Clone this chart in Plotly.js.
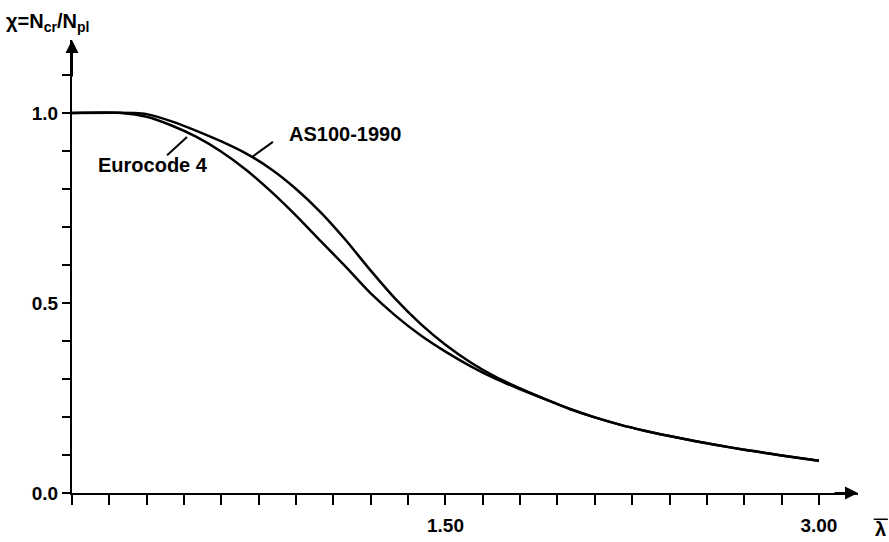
<!DOCTYPE html>
<html>
<head>
<meta charset="utf-8">
<script src="https://cdn.plot.ly/plotly-3.0.1.min.js"></script>
<style>html,body{margin:0;padding:0;background:#fff;}#chart{width:889px;height:542px;}</style>
</head>
<body>
<div id="chart"></div>
<script>
// Slenderness values and reduction factors
const asLambda = [0, 0.25, 0.3, 0.4, 0.5, 0.6, 0.7, 0.8, 0.9, 1.0, 1.1, 1.2, 1.3, 1.4, 1.5, 1.6, 1.7, 1.8, 1.9, 2.0, 2.1, 2.2, 2.3, 2.4, 2.5, 2.6, 2.7, 2.8, 2.9, 3.0];
const asChi    = [1.0, 1.0, 0.997, 0.978, 0.953, 0.925, 0.893, 0.852, 0.800, 0.738, 0.665, 0.585, 0.510, 0.445, 0.390, 0.344, 0.306, 0.275, 0.247, 0.221, 0.199, 0.180, 0.164, 0.150, 0.137, 0.125, 0.114, 0.104, 0.094, 0.085];

const ecLambda = [0, 0.2, 0.3, 0.4, 0.5, 0.6, 0.7, 0.8, 0.9, 1.0, 1.1, 1.2, 1.3, 1.4, 1.5, 1.6, 1.7, 1.8, 1.9, 2.0, 2.1, 2.2, 2.3, 2.4, 2.5, 2.6, 2.7, 2.8, 2.9, 3.0];
const ecChi    = [1.0, 1.0, 0.990, 0.967, 0.937, 0.898, 0.850, 0.793, 0.730, 0.662, 0.595, 0.525, 0.466, 0.415, 0.372, 0.334, 0.301, 0.273, 0.247, 0.221, 0.199, 0.180, 0.164, 0.150, 0.137, 0.125, 0.114, 0.104, 0.094, 0.085];

const xTickVals = [0, 0.15, 0.30, 0.45, 0.60, 0.75, 0.90, 1.05, 1.20, 1.35, 1.50, 1.65, 1.80, 1.95, 2.10, 2.25, 2.40, 2.55, 2.70, 2.85, 3.00];
const xTickText = ["", "", "", "", "", "", "", "", "", "", "1.50", "", "", "", "", "", "", "", "", "", "3.00"];
const yTickVals = [0, 0.1, 0.2, 0.3, 0.4, 0.5, 0.6, 0.7, 0.8, 0.9, 1.0, 1.1];
const yTickText = ["0.0", "", "", "", "", "0.5", "", "", "", "", "1.0", ""];

const seriesNames = ["AS100-1990", "Eurocode 4"];

const FONT = "Liberation Sans, Arial, Helvetica, sans-serif";
const XMAX = 3.157, YMAX = 1.192;

const traces = [
  {x: asLambda, y: asChi, name: seriesNames[0], mode: "lines", line: {color: "#000", width: 2.5, shape: "spline", smoothing: 0.7}, hoverinfo: "skip"},
  {x: ecLambda, y: ecChi, name: seriesNames[1], mode: "lines", line: {color: "#000", width: 2.5, shape: "spline", smoothing: 0.7}, hoverinfo: "skip"}
];

const layout = {
  width: 889, height: 542,
  margin: {l: 72, r: 31, t: 40, b: 49},
  paper_bgcolor: "#fff", plot_bgcolor: "#fff",
  showlegend: false,
  font: {family: FONT, color: "#000"},
  xaxis: {
    range: [0, XMAX], showgrid: false, zeroline: false,
    showline: true, linecolor: "#000", linewidth: 2,
    ticks: "outside", ticklen: 10, tickwidth: 2, tickcolor: "#000",
    tickmode: "array", tickvals: xTickVals, ticktext: xTickText,
    ticklabelstandoff: 4,
    tickfont: {family: FONT, size: 19, weight: "bold", color: "#000"},
    fixedrange: true
  },
  yaxis: {
    range: [0, YMAX], showgrid: false, zeroline: false,
    showline: true, linecolor: "#000", linewidth: 2,
    ticks: "outside", ticklen: 8, tickwidth: 2, tickcolor: "#000",
    tickmode: "array", tickvals: yTickVals, ticktext: yTickText,
    tickfont: {family: FONT, size: 19, weight: "bold", color: "#000"},
    fixedrange: true
  },
  shapes: [
    {type: "line", xref: "x", yref: "y", x0: 0.807, y0: 0.924, x1: 0.723, y1: 0.884, line: {color: "#000", width: 2}},
    {type: "line", xref: "x", yref: "y", x0: 0.382, y0: 0.889, x1: 0.462, y1: 0.937, line: {color: "#000", width: 2}},
    {type: "line", xref: "paper", yref: "paper", x0: 1.020, x1: 1.038, y0: -0.058, y1: -0.058, line: {color: "#000", width: 1.5}}
  ],
  annotations: [
    {x: XMAX, y: 0, ax: XMAX - 0.1, ay: 0, xref: "x", yref: "y", axref: "x", ayref: "y", text: "", showarrow: true, arrowhead: 2, arrowsize: 1.3, arrowwidth: 2, arrowcolor: "#000"},
    {x: 0, y: YMAX, ax: 0, ay: YMAX - 0.1, xref: "x", yref: "y", axref: "x", ayref: "y", text: "", showarrow: true, arrowhead: 2, arrowsize: 1.3, arrowwidth: 2, arrowcolor: "#000"},
    {x: 0.862, y: 0.945, xref: "x", yref: "y", xanchor: "left", yanchor: "middle", text: seriesNames[0], showarrow: false, font: {family: FONT, size: 20, weight: "bold", color: "#000"}},
    {x: 0.095, y: 0.862, xref: "x", yref: "y", xanchor: "left", yanchor: "middle", text: seriesNames[1], showarrow: false, font: {family: FONT, size: 20, weight: "bold", color: "#000"}},
    {x: -0.087, y: 1.07, xref: "paper", yref: "paper", xanchor: "left", yanchor: "top", text: "χ=N<sub>cr</sub>/N<sub>pl</sub>", showarrow: false, font: {family: FONT, size: 20, weight: "bold", color: "#000"}},
    {x: 1.029, y: -0.08, xref: "paper", yref: "paper", xanchor: "center", yanchor: "middle", text: "λ", showarrow: false, font: {family: FONT, size: 20, weight: "bold", color: "#000"}}
  ]
};

Plotly.newPlot("chart", traces, layout, {displayModeBar: false, staticPlot: true});
</script>
</body>
</html>
